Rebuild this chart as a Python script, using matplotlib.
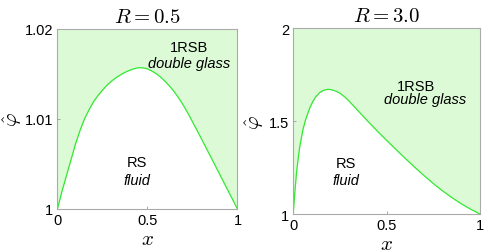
import matplotlib
matplotlib.use("Agg")
import matplotlib.pyplot as plt

plt.rcParams['mathtext.fontset'] = 'cm'
plt.rcParams['font.family'] = ['Liberation Sans', 'DejaVu Sans']

# boundary between RS fluid and 1RSB double glass
x_left = [0, 0.025, 0.05, 0.075, 0.1, 0.125, 0.15, 0.175, 0.2, 0.225, 0.25,
          0.275, 0.3, 0.325, 0.35, 0.375, 0.4, 0.425, 0.45, 0.475, 0.5,
          0.525, 0.55, 0.575, 0.6, 0.625, 0.65, 0.675, 0.7, 0.725, 0.75,
          0.8, 0.85, 0.9, 0.95, 1.0]
phi_left = [1.0, 1.00195, 1.0037, 1.00545, 1.0072, 1.0087, 1.0100, 1.0110,
            1.0119, 1.0126, 1.0132, 1.01375, 1.0142, 1.01458, 1.0149,
            1.01518, 1.0154, 1.01558, 1.0157, 1.01568, 1.01558, 1.01532,
            1.01502, 1.01462, 1.01415, 1.0136, 1.0130, 1.01228, 1.0115,
            1.01063, 1.0097, 1.0078, 1.00585, 1.0039, 1.00195, 1.0]

x_right = [0, 0.003, 0.008, 0.017, 0.025, 0.035, 0.052, 0.065, 0.079, 0.09,
           0.106, 0.12, 0.141, 0.16, 0.186, 0.21, 0.23, 0.25, 0.275, 0.3,
           0.325, 0.35, 0.375, 0.4, 0.45, 0.5, 0.55, 0.6, 0.65, 0.7, 0.75,
           0.8, 0.85, 0.9, 0.95, 1.0]
phi_right = [1.0, 1.05, 1.114, 1.222, 1.29, 1.366, 1.456, 1.505, 1.546,
             1.575, 1.608, 1.630, 1.653, 1.665, 1.671, 1.667, 1.660, 1.650,
             1.630, 1.606, 1.579, 1.552, 1.525, 1.498, 1.446, 1.396, 1.347,
             1.299, 1.252, 1.207, 1.164, 1.124, 1.088, 1.055, 1.026, 1.0]

titles = ["$R = 0.5$", "$R = 3.0$"]
yticks_left = [1, 1.01, 1.02]
yticks_right = [1, 1.5, 2]
xticks = [0, 0.5, 1]

fill_col = '#dcfad6'
line_col = '#33e833'

fig = plt.figure(figsize=(4.91, 2.53), dpi=100)
ax1 = fig.add_axes([0.117, 0.170, 0.3666, 0.7115])
ax2 = fig.add_axes([0.5974, 0.150, 0.3802, 0.735])


def setup(ax, xs, ys, yt, ytl, title, ylab_x):
    top = yt[-1]
    ax.fill_between(xs, ys, top, color=fill_col, lw=0)
    ax.plot(xs, ys, color=line_col, lw=0.9)
    ax.set_xlim(0, 1)
    ax.set_ylim(yt[0], top)
    ax.set_xticks(xticks)
    ax.set_xticklabels(['0', '0.5', '1'])
    ax.set_yticks(yt)
    ax.set_yticklabels(ytl)
    ax.tick_params(direction='in', length=2, width=0.6, color='#999999',
                   labelsize=10.5, pad=3)
    for sp in ax.spines.values():
        sp.set_color('#aaaaaa')
        sp.set_linewidth(0.8)
    ax.set_title(title, fontsize=15, pad=5)
    ax.set_xlabel('$x$', fontsize=15, labelpad=1)
    ax.set_ylabel(r'$\hat{\varphi}$', fontsize=15)
    ax.yaxis.set_label_coords(ylab_x, 0.5)


setup(ax1, x_left, phi_left, yticks_left, ['1', '1.01', '1.02'], titles[0], -0.185)
setup(ax2, x_right, phi_right, yticks_right, ['1', '1.5', '2'], titles[1], -0.145)

ax1.text(0.73, 0.90, '1RSB', transform=ax1.transAxes, ha='center', va='center', fontsize=10.5)
ax1.text(0.73, 0.81, 'double glass', transform=ax1.transAxes, ha='center', va='center',
         fontsize=10.5, style='italic')
ax1.text(0.44, 0.26, 'RS', transform=ax1.transAxes, ha='center', va='center', fontsize=10.5)
ax1.text(0.44, 0.16, 'fluid', transform=ax1.transAxes, ha='center', va='center',
         fontsize=10.5, style='italic')

ax2.text(0.656, 0.69, '1RSB', transform=ax2.transAxes, ha='center', va='center', fontsize=10.5)
ax2.text(0.705, 0.618, 'double glass', transform=ax2.transAxes, ha='center', va='center',
         fontsize=10.5, style='italic')
ax2.text(0.284, 0.275, 'RS', transform=ax2.transAxes, ha='center', va='center', fontsize=10.5)
ax2.text(0.284, 0.185, 'fluid', transform=ax2.transAxes, ha='center', va='center',
         fontsize=10.5, style='italic')

fig.savefig('out.png', dpi=100)
